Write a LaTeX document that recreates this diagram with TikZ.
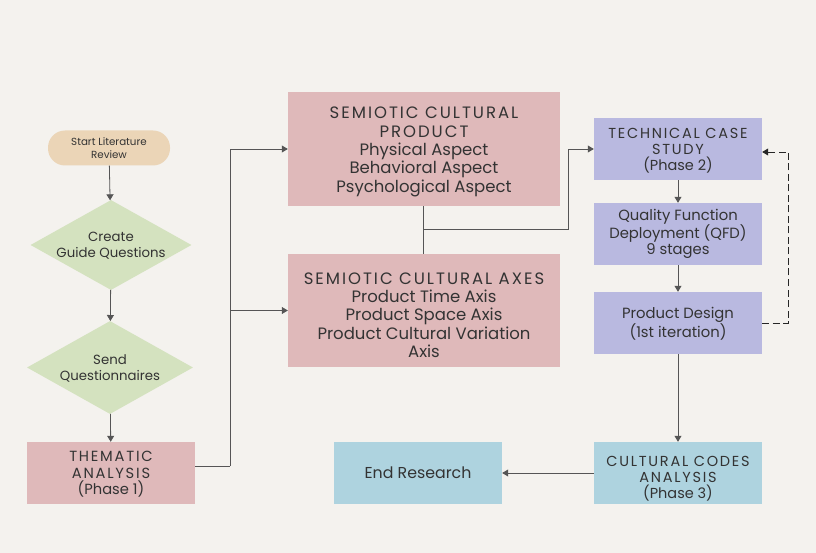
\documentclass[tikz,border=0pt]{standalone}
\usepackage{fontspec}
\setmainfont{Poppins}
\newfontfamily\capsf[LetterSpace=12]{Poppins}
\usetikzlibrary{arrows.meta,shapes.geometric}
\definecolor{bg}{HTML}{F4F2EE}
\definecolor{tan}{HTML}{EBD5B7}
\definecolor{sage}{HTML}{D4E2BF}
\definecolor{rose}{HTML}{DFB9BA}
\definecolor{lav}{HTML}{B9B9E0}
\definecolor{sky}{HTML}{AED3DF}
\definecolor{ln}{HTML}{555555}
\tikzset{
  box/.style={rectangle, inner sep=0pt},
  sbox/.style={box, minimum width=168pt, minimum height=62pt},
  bbox/.style={box, fill=rose, minimum width=272pt, minimum height=114pt},
  dia/.style={diamond, fill=sage, inner sep=0pt, minimum width=161pt, minimum height=90pt},
  txt/.style={align=center, text=black!80, inner sep=0pt},
  conn/.style={draw=ln, line width=0.8pt},
  arr/.style={conn, -{Triangle[width=7pt,length=6pt]}},
}
\begin{document}
\begin{tikzpicture}[x=1pt,y=-1pt]
\fill[bg] (0,0) rectangle (816,553);
\useasboundingbox (0,0) rectangle (816,553);

\node[box, fill=tan, rounded corners=17pt, minimum width=122pt, minimum height=35pt,
  label={[txt, font=\fontsize{10.3}{13}\selectfont, yshift=-0.5pt]center:Start Literature\\Review}] (start) at (109,148) {};
\node[dia, label={[txt, font=\fontsize{13.3}{16}\selectfont, yshift=-1pt]center:Create\\Guide Questions}] (d1) at (111,245) {};
\node[dia, minimum width=166pt, minimum height=93pt, label={[txt, font=\fontsize{13.3}{16}\selectfont, yshift=-1pt]center:Send\\Questionnaires}] (d2) at (110,367.5) {};
\node[sbox, fill=rose, label={[txt, font=\fontsize{14.7}{16.5}\selectfont, yshift=-1.5pt]center:{\capsf THEMATIC}\\{\capsf ANALYSIS}\\(Phase 1)}] (tha) at (111,473) {};

\node[bbox, label={[txt, font=\fontsize{16.5}{18.3}\selectfont, yshift=-3pt]center:{\capsf SEMIOTIC CULTURAL}\\{\capsf PRODUCT}\\Physical Aspect\\Behavioral Aspect\\Psychological Aspect}] (scp) at (424,149) {};
\node[bbox, minimum height=113pt, label={[txt, font=\fontsize{16.5}{18.3}\selectfont, yshift=-4.5pt]center:{\capsf SEMIOTIC CULTURAL AXES}\\Product Time Axis\\Product Space Axis\\Product Cultural Variation\\Axis}] (sca) at (424,310.5) {};

\node[sbox, fill=lav, label={[txt, font=\fontsize{14.5}{16}\selectfont, yshift=-1.5pt]center:{\capsf TECHNICAL CASE}\\{\capsf STUDY}\\(Phase 2)}] (tcs) at (678,149) {};
\node[sbox, fill=lav, label={[txt, font=\fontsize{14.8}{16}\selectfont]center:Quality Function\\Deployment (QFD)\\9 stages}] (qfd) at (678,234) {};
\node[sbox, fill=lav, label={[txt, font=\fontsize{14.8}{17}\selectfont, yshift=-0.5pt]center:Product Design\\(1st iteration)}] (pd) at (678,323) {};
\node[sbox, fill=sky, label={[txt, font=\fontsize{14.5}{16}\selectfont, yshift=-5.5pt]center:{\capsf CULTURAL CODES}\\{\capsf ANALYSIS}\\(Phase 3)}] (cca) at (678,473) {};
\node[sbox, fill=sky, label={[txt, font=\fontsize{15.8}{18}\selectfont]center:End Research}] (end) at (418,473) {};

\coordinate (j1) at (230,466);
\coordinate (j2) at (423,229);
\coordinate (j3) at (568,229);

\draw[arr] (start) -- (d1);
\draw[arr] (d1) -- (d2);
\draw[arr] (d2) -- (tha);
\draw[conn] (tha.east |- j1) -- (j1);
\draw[arr] (j1) |- (scp.west);
\draw[arr] (j1 |- sca.west) -- (sca.west);
\draw[conn] (scp.south -| j2) -- (sca.north -| j2);
\draw[arr] (j2) -- (j3) |- (tcs.west);
\draw[arr] (tcs) -- (qfd);
\draw[arr] (qfd) -- (pd);
\draw[arr] (pd) -- (cca);
\draw[arr] (cca) -- (end);
\draw[arr, dash pattern=on 7pt off 3.5pt, draw=black!85] (pd.east) -- ++(26,0) |- ([yshift=-3pt]tcs.east);
\end{tikzpicture}
\end{document}
